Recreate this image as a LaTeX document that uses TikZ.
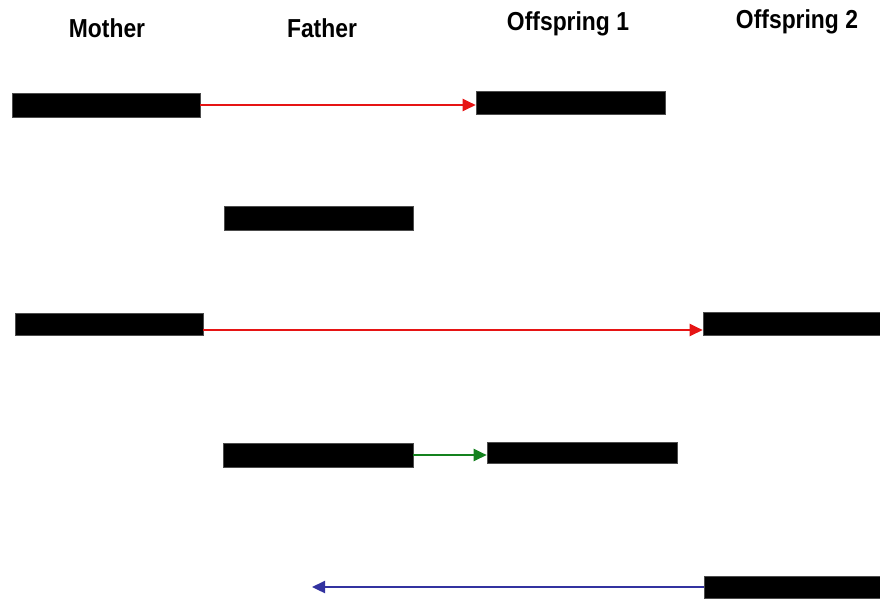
\documentclass[tikz,border=0pt]{standalone}
\usepackage{fontspec}
\setmainfont{Liberation Sans}
\newfontfamily\headfont[FakeStretch=0.88]{Liberation Sans}
\usetikzlibrary{arrows.meta}
\definecolor{arrred}{RGB}{230,20,20}
\definecolor{arrgreen}{RGB}{20,130,30}
\definecolor{arrblue}{RGB}{50,50,160}
\tikzset{
  bar/.style={fill=black, draw=black!70, line width=0.6pt, inner sep=0pt, minimum height=#1, minimum width=188pt},
  bar/.default=23pt,
  head/.style={font=\headfont\bfseries\fontsize{26}{30}\selectfont, inner sep=0pt},
  conn/.style={line width=2.3pt, -{Triangle[length=13pt,width=12pt]}}
}
\begin{document}
\begin{tikzpicture}[x=1pt,y=-1pt]
\useasboundingbox (0,0) rectangle (880,598);
\node[head] (hm) at (107,28) {Mother};
\node[head] (hf) at (322,28) {Father};
\node[head] (ho1) at (568,24) {Offspring 1};
\node[head] (ho2) at (797,22) {Offspring 2};

\node[bar=24pt] (m1) at (106,105) {};
\node[bar, minimum width=189pt] (o11) at (570.5,102.5) {};
\node[bar=24pt, minimum width=189pt] (f1) at (318.5,218) {};
\node[bar=22pt] (m2) at (109,324) {};
\node[bar, minimum width=178pt] (o21) at (792,323.5) {};
\node[bar=24pt, minimum width=190pt] (f2) at (318,455) {};
\node[bar=21pt, minimum width=190pt] (o12) at (582,452.5) {};
\node[bar=22pt, minimum width=178pt] (o22) at (793,587) {};
\coordinate (bend) at (312,587);

\draw[conn, arrred] (m1.east) -- (o11.west |- m1.east);
\draw[conn, arrred] ([yshift=-6pt]m2.east) -- ([yshift=-6.5pt]o21.west);
\draw[conn, arrgreen] (f2.east) -- (o12.west |- f2.east);
\draw[conn, arrblue] (o22.west) -- (bend);
\end{tikzpicture}
\end{document}
